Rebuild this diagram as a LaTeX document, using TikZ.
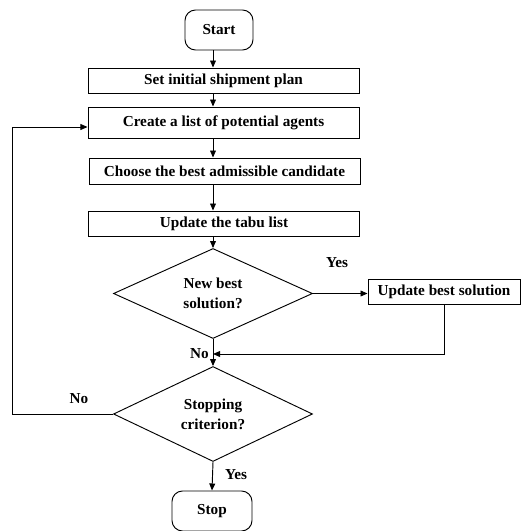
\documentclass[tikz,border=0pt]{standalone}
\usepackage{fontspec}
\setmainfont{Liberation Serif}
\usetikzlibrary{shapes.geometric,arrows.meta}
\begin{document}
\begin{tikzpicture}[x=0.03cm,y=-0.03cm,line width=0.8pt,
    font=\bfseries\fontsize{13}{17}\selectfont,
    every path/.style={>={Triangle[length=6pt,width=5pt]}},
    terminal/.style={draw,rounded corners=9pt,minimum width=#1,minimum height=1.2cm,inner sep=0pt},
    stepbox/.style={draw,minimum width=8.13cm,minimum height=#1,inner sep=0pt},
    decision/.style={draw,diamond,minimum width=5.97cm,minimum height=2.7cm,inner sep=0pt,align=center}]
    \useasboundingbox (0,0) rectangle (521,531);
    \node [terminal=2.04cm] (start) at (219,30) {Start};
    \node [stepbox=0.75cm] (plan) at (223.5,80.5) {Set initial shipment plan};
    \node [stepbox=0.93cm] (agents) at (223.5,122.5) {Create a list of potential agents};
    \node [stepbox=0.78cm] (choose) at (224.5,171) {Choose the best admissible candidate};
    \node [stepbox=0.75cm] (tabu) at (224,223.5) {Update the tabu list};
    \node [decision] (newbest) at (213,293.5) {New best\\solution?};
    \node [draw,minimum width=4.56cm,minimum height=0.75cm,inner sep=0pt] (update) at (444,291.5) {Update best solution};
    \node [decision] (criterion) at (213,414) {Stopping\\criterion?};
    \node [terminal=2.4cm] (stop) at (212,511) {Stop};
    \coordinate (join) at (213,354);
    \coordinate (loop) at (12,127);
    \draw [->] (start.south -| newbest.north) -- (plan.north -| newbest.north);
    \draw [->] (plan.south -| newbest.north) -- (agents.north -| newbest.north);
    \draw [->] (agents.south -| newbest.north) -- (choose.north -| newbest.north);
    \draw [->] (choose.south -| newbest.north) -- (tabu.north -| newbest.north);
    \draw [->] (tabu.south -| newbest.north) -- (newbest.north);
    \draw [->] (newbest.east) -- (newbest.east -| update.west);
    \draw [->] (newbest.south) -- (criterion.north);
    \draw [->] (update.south) |- (join);
    \draw [->] (criterion.west) -| (loop) -- (loop -| agents.west);
    \draw [->] (criterion.south) -- (stop.north);
    \node (yes1) at (337,263) {Yes};
    \node [left] (no1) at (join) {No};
    \node (no2) at (79,399) {No};
    \node (yes2) at (236,475) {Yes};
\end{tikzpicture}
\end{document}
